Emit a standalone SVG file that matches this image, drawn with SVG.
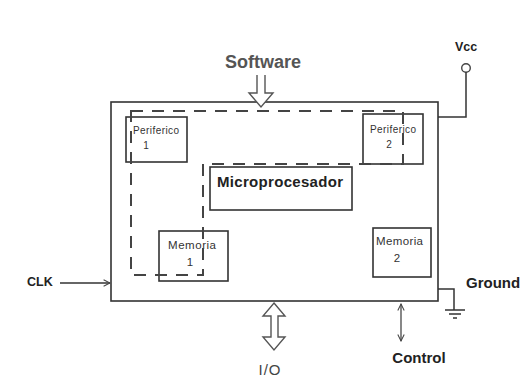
<svg xmlns="http://www.w3.org/2000/svg" width="521" height="378" viewBox="0 0 521 378">
<style>
.box{fill:#fff;stroke:#333;stroke-width:1.6}
.ln{fill:none;stroke:#333;stroke-width:1.5}
.dash{fill:none;stroke:#444;stroke-width:2;stroke-dasharray:12 9}
.b{font-family:"Liberation Sans",Arial,sans-serif;font-weight:bold;fill:#222}
.s{font-family:"Liberation Sans",Arial,sans-serif;fill:#333;font-size:10px}
.m{font-family:"Liberation Sans",Arial,sans-serif;fill:#333;font-size:11.5px}
.harrow{fill:#fff;stroke:#555;stroke-width:1.4}
</style>
<defs>
<marker id="open" viewBox="0 0 10 10" refX="9" refY="5" markerWidth="8" markerHeight="8" orient="auto-start-reverse" markerUnits="userSpaceOnUse">
<path d="M1,1 L9,5 L1,9" fill="none" stroke="#444" stroke-width="1.3"/>
</marker>
</defs>
<rect width="521" height="378" fill="#fff"/>
<g id="chip">
<rect class="box" x="111" y="102" width="327" height="199"/>
</g>
<g id="periferico1">
<rect class="box" x="126" y="117" width="61" height="45"/>
<text class="s" x="133" y="134" textLength="46">Periferico</text>
<text class="s" x="146" y="149" text-anchor="middle">1</text>
</g>
<g id="periferico2">
<rect class="box" x="363" y="114" width="60" height="50"/>
<text class="s" x="370" y="133" textLength="46">Periferico</text>
<text class="s" x="389" y="148" text-anchor="middle">2</text>
</g>
<g id="microprocesador">
<rect class="box" x="210" y="167" width="142" height="43"/>
<text class="b" x="217" y="187" font-size="15" textLength="126">Microprocesador</text>
</g>
<g id="memoria1">
<rect class="box" x="159" y="231" width="69" height="50"/>
<text class="m" x="168" y="249" textLength="48">Memoria</text>
<text class="m" x="190" y="266" text-anchor="middle">1</text>
</g>
<g id="memoria2">
<rect class="box" x="373" y="228" width="58" height="49"/>
<text class="m" x="376" y="245" textLength="47">Memoria</text>
<text class="m" x="397" y="262" text-anchor="middle">2</text>
</g>
<g id="microcontroller-boundary">
<path class="dash" d="M131,111 H403 V164 H203 V275 H131 Z"/>
</g>
<g id="software">
<text class="b" x="263" y="68" font-size="18" text-anchor="middle" style="fill:#555">Software</text>
</g>
<g id="vcc">
<text class="b" x="466" y="51" font-size="12.5" text-anchor="middle">Vcc</text>
<circle cx="466" cy="68" r="4.3" fill="#fff" stroke="#444" stroke-width="1.4"/>
</g>
<g id="clk">
<text class="b" x="27" y="286" font-size="12.5">CLK</text>
</g>
<g id="ground">
<text class="b" x="466" y="288" font-size="15">Ground</text>
<path class="ln" d="M445,310 H465 M449,314 H461 M453,318 H457"/>
</g>
<g id="io">
<text x="270" y="375" font-family="Liberation Sans, Arial, sans-serif" font-size="15" fill="#444" text-anchor="middle" letter-spacing="1">I/O</text>
</g>
<g id="control">
<text class="b" x="419" y="363" font-size="15" text-anchor="middle">Control</text>
</g>
<g id="connectors">
<path class="harrow" d="M257,75 V93 H249 L261,107 L273,93 H265 V75"/>
<path class="ln" d="M466,72.3 V117 H438"/>
<line class="ln" x1="60" y1="283" x2="110" y2="283" marker-end="url(#open)"/>
<path class="ln" d="M438,289 H454 V310"/>
<path class="harrow" d="M274,303 L285,316 H278 V337 H285 L274,350 L263,337 H271 V316 H263 Z"/>
<line x1="401" y1="304" x2="401" y2="341" stroke="#555" stroke-width="1.4" marker-start="url(#open)" marker-end="url(#open)"/>
</g>
</svg>
